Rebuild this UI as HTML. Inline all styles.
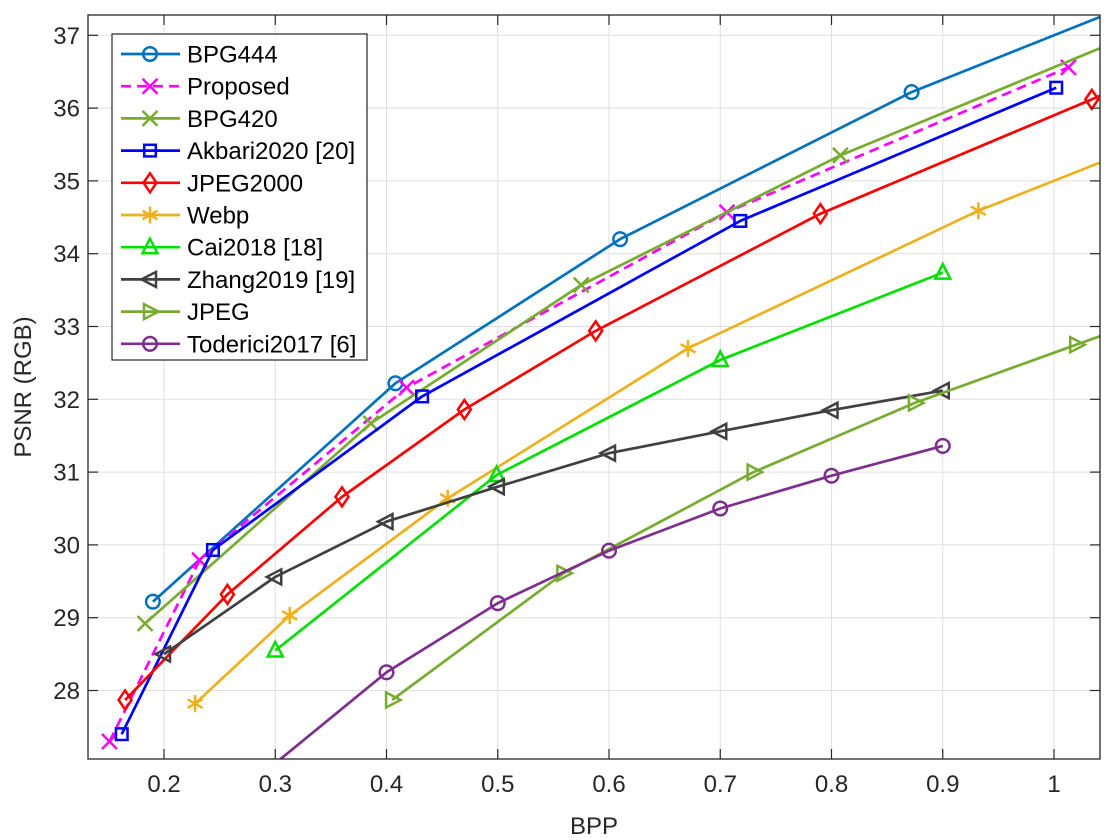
<!DOCTYPE html>
<html><head><meta charset="utf-8"><style>
html,body{margin:0;padding:0;background:#fff;}
svg{display:block;font-family:"Liberation Sans",sans-serif;}
</style></head><body>
<svg id="chart" width="1120" height="840" viewBox="0 0 1120 840" xmlns="http://www.w3.org/2000/svg">
<rect x="0" y="0" width="1120" height="840" fill="#fff"/>
<defs><clipPath id="plotclip"><rect x="88" y="15" width="1012" height="744"/></clipPath></defs>
<g id="grid"></g>
<g id="series" clip-path="url(#plotclip)"></g>
<g id="axes"></g>
<text x="594" y="834" font-size="24" text-anchor="middle" fill="#262626">BPP</text>
<text transform="translate(31,387) rotate(-90)" font-size="24" text-anchor="middle" fill="#262626">PSNR (RGB)</text>
<g id="legend"></g>
</svg>
<script>
const xTicks=[0.2,0.3,0.4,0.5,0.6,0.7,0.8,0.9,1];
const xTickLabels=["0.2","0.3","0.4","0.5","0.6","0.7","0.8","0.9","1"];
const yTicks=[28,29,30,31,32,33,34,35,36,37];
const yTickLabels=["28","29","30","31","32","33","34","35","36","37"];
const seriesNames=["BPG444","Proposed","BPG420","Akbari2020 [20]","JPEG2000","Webp","Cai2018 [18]","Zhang2019 [19]","JPEG","Toderici2017 [6]"];
const bpg444X=[0.19,0.408,0.61,0.872,1.041];
const bpg444Y=[29.22,32.22,34.2,36.22,37.25];
const proposedX=[0.151,0.232,0.418,0.706,1.013];
const proposedY=[27.3,29.79,32.16,34.57,36.56];
const bpg420X=[0.183,0.386,0.575,0.808,1.041];
const bpg420Y=[28.92,31.67,33.57,35.35,36.82];
const akbariX=[0.162,0.244,0.432,0.718,1.002];
const akbariY=[27.4,29.93,32.04,34.45,36.28];
const jp2kX=[0.165,0.257,0.36,0.47,0.588,0.79,1.034,1.06];
const jp2kY=[27.87,29.32,30.66,31.86,32.94,34.55,36.12,36.3];
const webpX=[0.228,0.313,0.455,0.671,0.932,1.041];
const webpY=[27.82,29.03,30.64,32.7,34.59,35.25];
const caiX=[0.3,0.499,0.7,0.9];
const caiY=[28.55,30.96,32.54,33.74];
const zhangX=[0.2,0.3,0.4,0.5,0.6,0.7,0.8,0.9];
const zhangY=[28.5,29.56,30.32,30.8,31.26,31.56,31.85,32.12];
const jpegX=[0.405,0.559,0.73,0.875,1.02,1.06];
const jpegY=[27.87,29.61,31.0,31.95,32.75,32.97];
const todericiX=[0.3,0.4,0.5,0.6,0.7,0.8,0.9];
const todericiY=[27.0,28.25,29.2,29.92,30.5,30.95,31.36];

const NS="http://www.w3.org/2000/svg";
const L=88,R=1100,T=15,B=759;
function xs(v){return 164+(v-0.2)*1112.5;}
function ys(v){return 35.3+(37-v)*72.8;}
function mk(tag,attrs,parent){const e=document.createElementNS(NS,tag);for(const k in attrs)e.setAttribute(k,attrs[k]);parent.appendChild(e);return e;}
const grid=document.getElementById('grid'),axes=document.getElementById('axes'),ser=document.getElementById('series'),leg=document.getElementById('legend');
xTicks.forEach((t,i)=>{const x=xs(t);
 const g=mk('line',{x1:x,x2:x,y1:T,y2:B,stroke:'#dfdfdf','stroke-width':1},grid);
 
 
 mk('line',{x1:x,x2:x,y1:B,y2:B-10,stroke:'#262626','stroke-width':1.2},axes);
 mk('line',{x1:x,x2:x,y1:T,y2:T+10,stroke:'#262626','stroke-width':1.2},axes);
 const tx=mk('text',{x:x,y:B+33,'font-size':24,'text-anchor':'middle',fill:'#262626'},axes);
 tx.textContent=xTickLabels[i];
 
 
});
yTicks.forEach((t,i)=>{const y=ys(t);
 const g=mk('line',{x1:L,x2:R,y1:y,y2:y,stroke:'#dfdfdf','stroke-width':1},grid);
 
 
 mk('line',{x1:L,x2:L+10,y1:y,y2:y,stroke:'#262626','stroke-width':1.2},axes);
 mk('line',{x1:R,x2:R-10,y1:y,y2:y,stroke:'#262626','stroke-width':1.2},axes);
 const tx=mk('text',{x:L-8,y:y+8.5,'font-size':24,'text-anchor':'end',fill:'#262626'},axes);
 tx.textContent=yTickLabels[i];
 
 
});
const frame=mk('rect',{x:L,y:T,width:R-L,height:B-T,fill:'none',stroke:'#262626','stroke-width':1.3},axes);



function marker(type,x,y,color,parent){
 const s=7.5,a={fill:'none',stroke:color,'stroke-width':2.5};
 let e;
 if(type==='o') e=mk('circle',Object.assign({cx:x,cy:y,r:6.8},a),parent);
 else if(type==='x') e=mk('path',Object.assign({d:`M${x-s} ${y-s}L${x+s} ${y+s}M${x-s} ${y+s}L${x+s} ${y-s}`},a),parent);
 else if(type==='s') e=mk('rect',Object.assign({x:x-5.8,y:y-5.8,width:11.6,height:11.6},a),parent);
 else if(type==='d') e=mk('path',Object.assign({d:`M${x} ${y-9.5}L${x+6.5} ${y}L${x} ${y+9.5}L${x-6.5} ${y}Z`},a),parent);
 else if(type==='*') e=mk('path',Object.assign({d:`M${x} ${y-8.5}V${y+8.5}M${x-7.5} ${y-4.3}L${x+7.5} ${y+4.3}M${x-7.5} ${y+4.3}L${x+7.5} ${y-4.3}`},a),parent);
 else if(type==='^') e=mk('path',Object.assign({d:`M${x} ${y-8.5}L${x+7.5} ${y+6}L${x-7.5} ${y+6}Z`},a),parent);
 else if(type==='<') e=mk('path',Object.assign({d:`M${x-8.5} ${y}L${x+6} ${y-7.5}L${x+6} ${y+7.5}Z`},a),parent);
 else if(type==='>') e=mk('path',Object.assign({d:`M${x+8.5} ${y}L${x-6} ${y-7.5}L${x-6} ${y+7.5}Z`},a),parent);
 return e;
}
const defs=[
 {x:bpg444X,y:bpg444Y,c:'#0072BD',m:'o',n:4},
 {x:proposedX,y:proposedY,c:'#FF00FF',m:'x',dash:true,n:5},
 {x:bpg420X,y:bpg420Y,c:'#77AC30',m:'x',n:4},
 {x:akbariX,y:akbariY,c:'#0000FF',m:'s',n:5},
 {x:jp2kX,y:jp2kY,c:'#FF0000',m:'d',n:7},
 {x:webpX,y:webpY,c:'#EDB120',m:'*',n:5},
 {x:caiX,y:caiY,c:'#00E000',m:'^',n:4},
 {x:zhangX,y:zhangY,c:'#404040',m:'<',n:8},
 {x:jpegX,y:jpegY,c:'#77AC30',m:'>',n:5},
 {x:todericiX,y:todericiY,c:'#7E2F8E',m:'o',n:7,skip:1}
];
defs.forEach((d,i)=>{
 const g=mk('g',{},ser);
 
 
 const pts=d.x.map((v,k)=>xs(v).toFixed(1)+','+ys(d.y[k]).toFixed(1)).join(' ');
 const pl=mk('polyline',{points:pts,fill:'none',stroke:d.c,'stroke-width':2.7,'stroke-linejoin':'round'},g);
 if(d.dash) pl.setAttribute('stroke-dasharray','10 6');
 
 
 for(let k=(d.skip||0);k<d.n;k++){
  const e=marker(d.m,xs(d.x[k]),ys(d.y[k]),d.c,g);
  
  
 }
});
const lb=mk('rect',{x:112,y:34,width:255,height:326,fill:'#fff',stroke:'#262626','stroke-width':1.2},leg);


defs.forEach((d,i)=>{
 const y=54+i*32.2;
 const g=mk('g',{},leg);
 
 
 const ln=mk('line',{x1:121,x2:180,y1:y,y2:y,stroke:d.c,'stroke-width':2.7},g);
 if(d.dash) ln.setAttribute('stroke-dasharray','10 6');
 marker(d.m,150,y,d.c,g);
 const t=mk('text',{x:187,y:y+8.5,'font-size':24,fill:'#000'},g);
 t.textContent=seriesNames[i];
});
</script>
</body></html>
